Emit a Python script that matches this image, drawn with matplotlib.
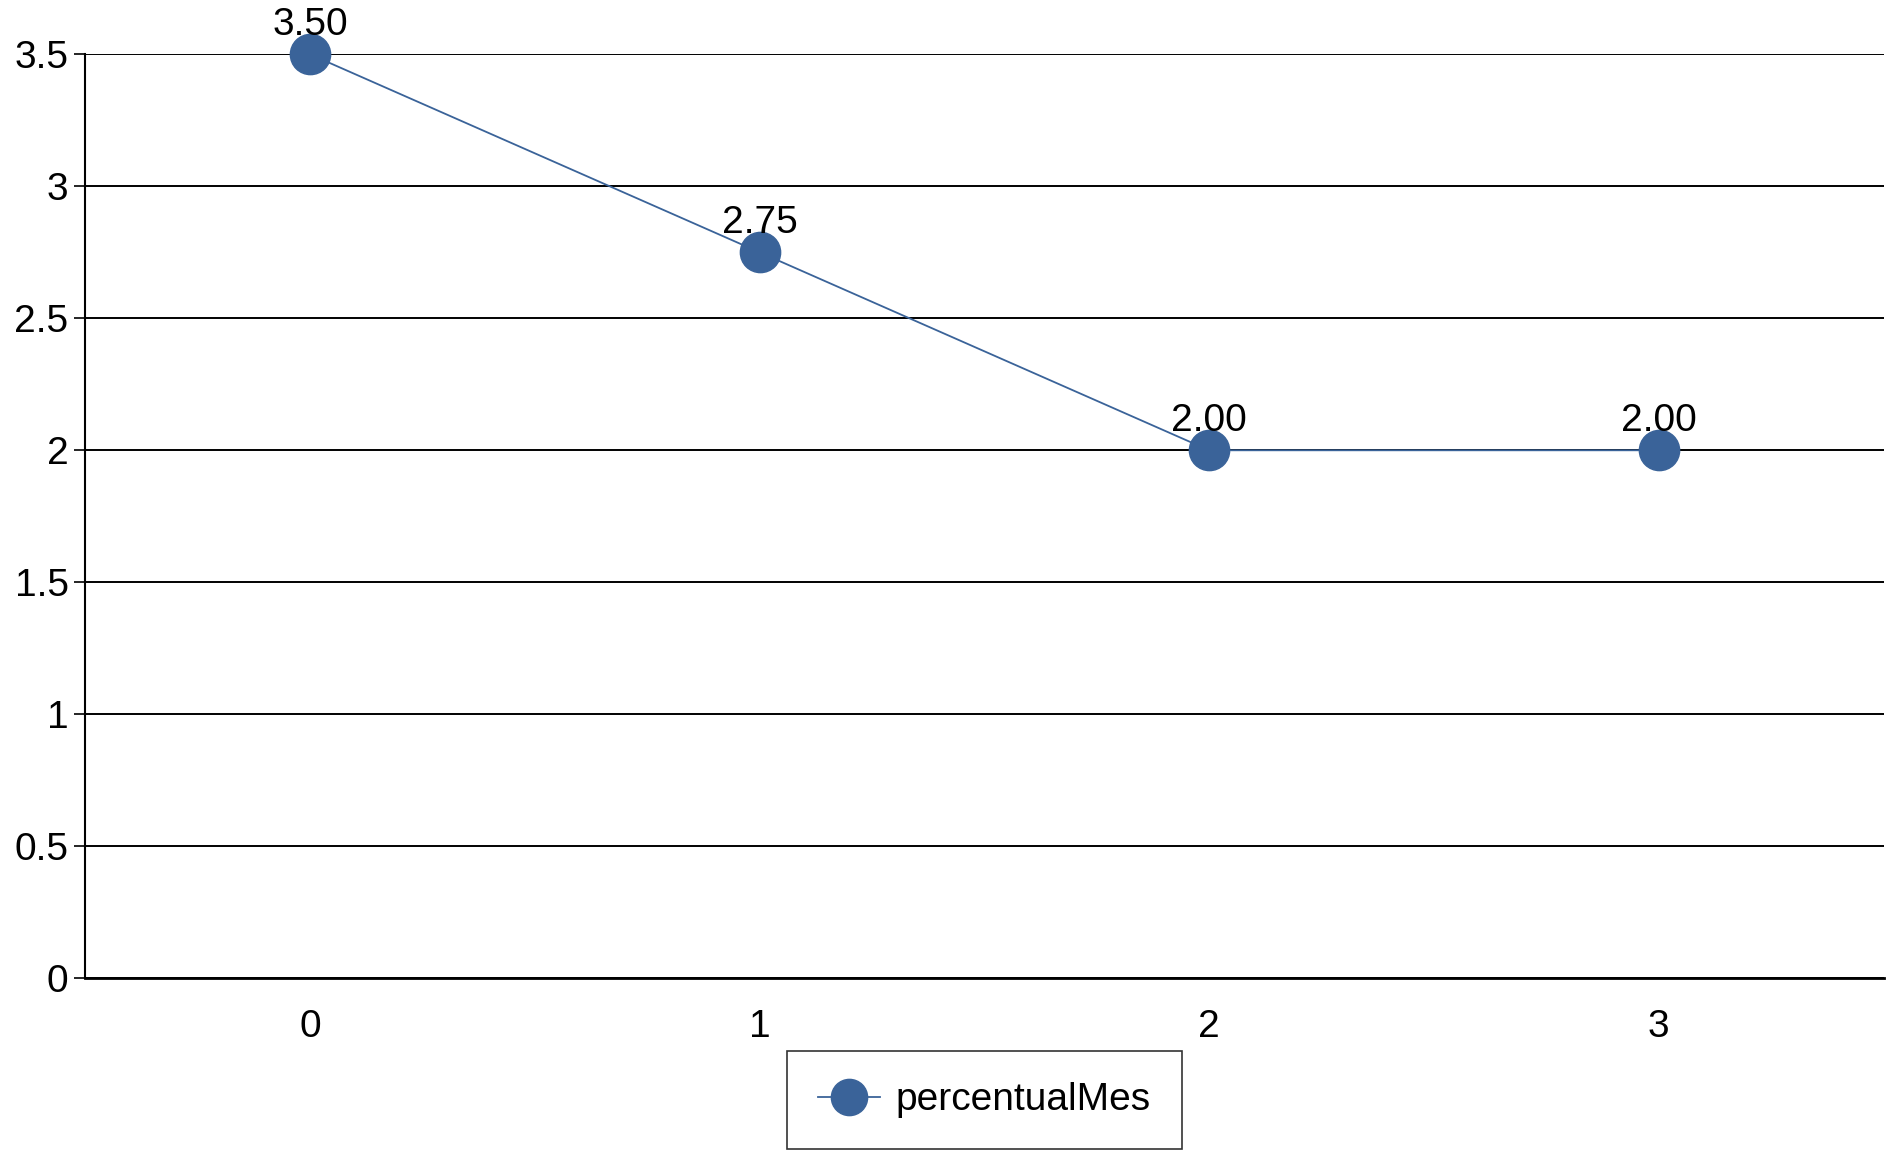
import matplotlib.pyplot as plt

plt.rcParams['font.family'] = ['Liberation Sans', 'DejaVu Sans']

x_vals = [0, 1, 2, 3]
y_vals = [3.5, 2.75, 2.0, 2.0]
y_ticks = [0, 0.5, 1, 1.5, 2, 2.5, 3, 3.5]
series_name = "percentualMes"
color = "#3A6399"

fig = plt.figure(figsize=(18.93, 11.55), dpi=100)
ax = fig.add_axes([0.045, 0.153, 0.95, 0.800])
ax.plot(x_vals, y_vals, color=color, linewidth=1.3, marker='o', markersize=29,
        label=series_name, zorder=3, clip_on=False)
for x, y in zip(x_vals, y_vals):
    ax.annotate("%.2f" % y, (x, y), xytext=(0, 8), textcoords='offset points',
                ha='center', va='bottom', fontsize=28)

ax.set_xlim(-0.5, 3.5)
ax.set_ylim(0, 3.5)
ax.set_yticks(y_ticks)
ax.set_yticklabels([("%g" % t) for t in y_ticks])
ax.set_xticks(x_vals)
ax.grid(axis='y', color='black', linewidth=1.4)
ax.set_axisbelow(True)
for s in ['top', 'right']:
    ax.spines[s].set_visible(False)
ax.spines['left'].set_linewidth(1.5)
ax.spines['bottom'].set_linewidth(2)
ax.tick_params(axis='y', labelsize=28, length=8, width=1.2, pad=4)
ax.tick_params(axis='x', labelsize=28, length=0, pad=22)

leg = fig.legend(loc='lower center', bbox_to_anchor=(0.52, -0.012), fontsize=28,
                 frameon=True, fancybox=False, edgecolor='black', borderpad=0.8,
                 handlelength=1.6, handletextpad=0.4, markerscale=0.9)
leg.get_frame().set_linewidth(1.2)

fig.savefig("out.png", dpi=100)
